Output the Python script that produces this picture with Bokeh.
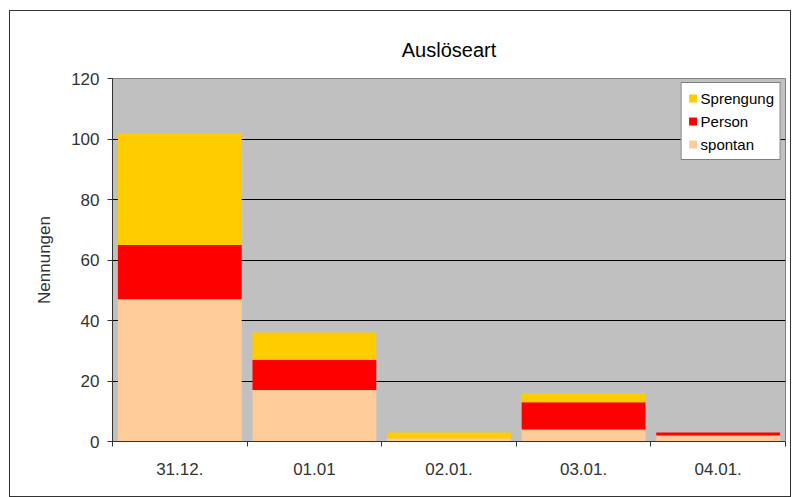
from bokeh.plotting import figure
from bokeh.layouts import column
from bokeh.models import FixedTicker, Legend, LegendItem, ColumnDataSource, Range1d
from bokeh.embed import file_html
from bokeh.resources import INLINE

categories = ["31.12.", "01.01", "02.01.", "03.01.", "04.01."]
spontan = [47, 17, 1, 4, 2]
person = [18, 10, 0, 9, 1]
sprengung = [37, 9, 2, 3, 0]
series = ["spontan", "Person", "Sprengung"]
colors = ["#FFCC99", "#FF0000", "#FFCC00"]
y_ticks = [0, 20, 40, 60, 80, 100, 120]

xpos = [i + 0.5 for i in range(len(categories))]
src = ColumnDataSource(dict(x=xpos, spontan=spontan, Person=person, Sprengung=sprengung))

FONT = "Liberation Sans"

p = figure(width=780, height=485, output_backend="svg", toolbar_location=None,
           x_range=Range1d(0, len(categories)), y_range=Range1d(0, 120),
           min_border_left=102, min_border_right=5, min_border_top=67, min_border_bottom=55)

renderers = p.vbar_stack(series, x="x", width=0.92, source=src, color=colors, line_color=None)

p.title.text = "Auslöseart"
p.title.align = "center"
p.title.text_font = FONT
p.title.text_font_size = "20px"
p.title.text_font_style = "normal"
p.title.text_color = "#000000"
p.title.standoff = 36

p.background_fill_color = "#C0C0C0"
p.border_fill_color = "white"
p.outline_line_color = "#808080"
p.outline_line_width = 1

p.xgrid.visible = False
p.ygrid.ticker = FixedTicker(ticks=y_ticks)
p.ygrid.grid_line_color = "#000000"
p.ygrid.grid_line_width = 1

p.yaxis.ticker = FixedTicker(ticks=y_ticks)
p.yaxis.axis_label = "Nennungen"
p.yaxis.axis_label_text_font = FONT
p.yaxis.axis_label_text_font_size = "17px"
p.yaxis.axis_label_text_font_style = "normal"
p.yaxis.axis_label_text_color = "#333333"
p.yaxis.axis_label_standoff = 14
p.yaxis.major_label_text_font = FONT
p.yaxis.major_label_text_font_size = "17px"
p.yaxis.major_label_text_color = "#333333"
p.yaxis.major_label_standoff = 8
p.yaxis.axis_line_color = "#333333"
p.yaxis.major_tick_line_color = "#333333"
p.yaxis.major_tick_out = 5
p.yaxis.major_tick_in = 0
p.yaxis.minor_tick_line_color = None

p.xaxis.ticker = FixedTicker(ticks=xpos, minor_ticks=list(range(len(categories) + 1)))
p.xaxis.major_label_overrides = {x: c for x, c in zip(xpos, categories)}
p.xaxis.major_tick_line_color = None
p.xaxis.minor_tick_line_color = "#333333"
p.xaxis.minor_tick_out = 5
p.xaxis.minor_tick_in = 0
p.xaxis.axis_line_color = "#333333"
p.xaxis.major_label_text_font = FONT
p.xaxis.major_label_text_font_size = "17px"
p.xaxis.major_label_text_color = "#333333"
p.xaxis.major_label_standoff = 15

items = [LegendItem(label=series[i], renderers=[renderers[i]]) for i in [2, 1, 0]]
legend = Legend(items=items, location="top_right")
legend.label_text_font = FONT
legend.label_text_font_size = "15px"
legend.label_text_color = "#000000"
legend.glyph_width = 10
legend.glyph_height = 10
legend.label_height = 18
legend.spacing = 5
legend.padding = 6
legend.margin = 4
legend.label_standoff = 3
legend.border_line_color = "#000000"
legend.background_fill_color = "white"
legend.background_fill_alpha = 1
p.add_layout(legend)

layout = column(p, styles={"border": "1px solid #333333", "margin-left": "9px", "margin-top": "10px"})

open("out.html", "w").write(file_html(layout, INLINE))
